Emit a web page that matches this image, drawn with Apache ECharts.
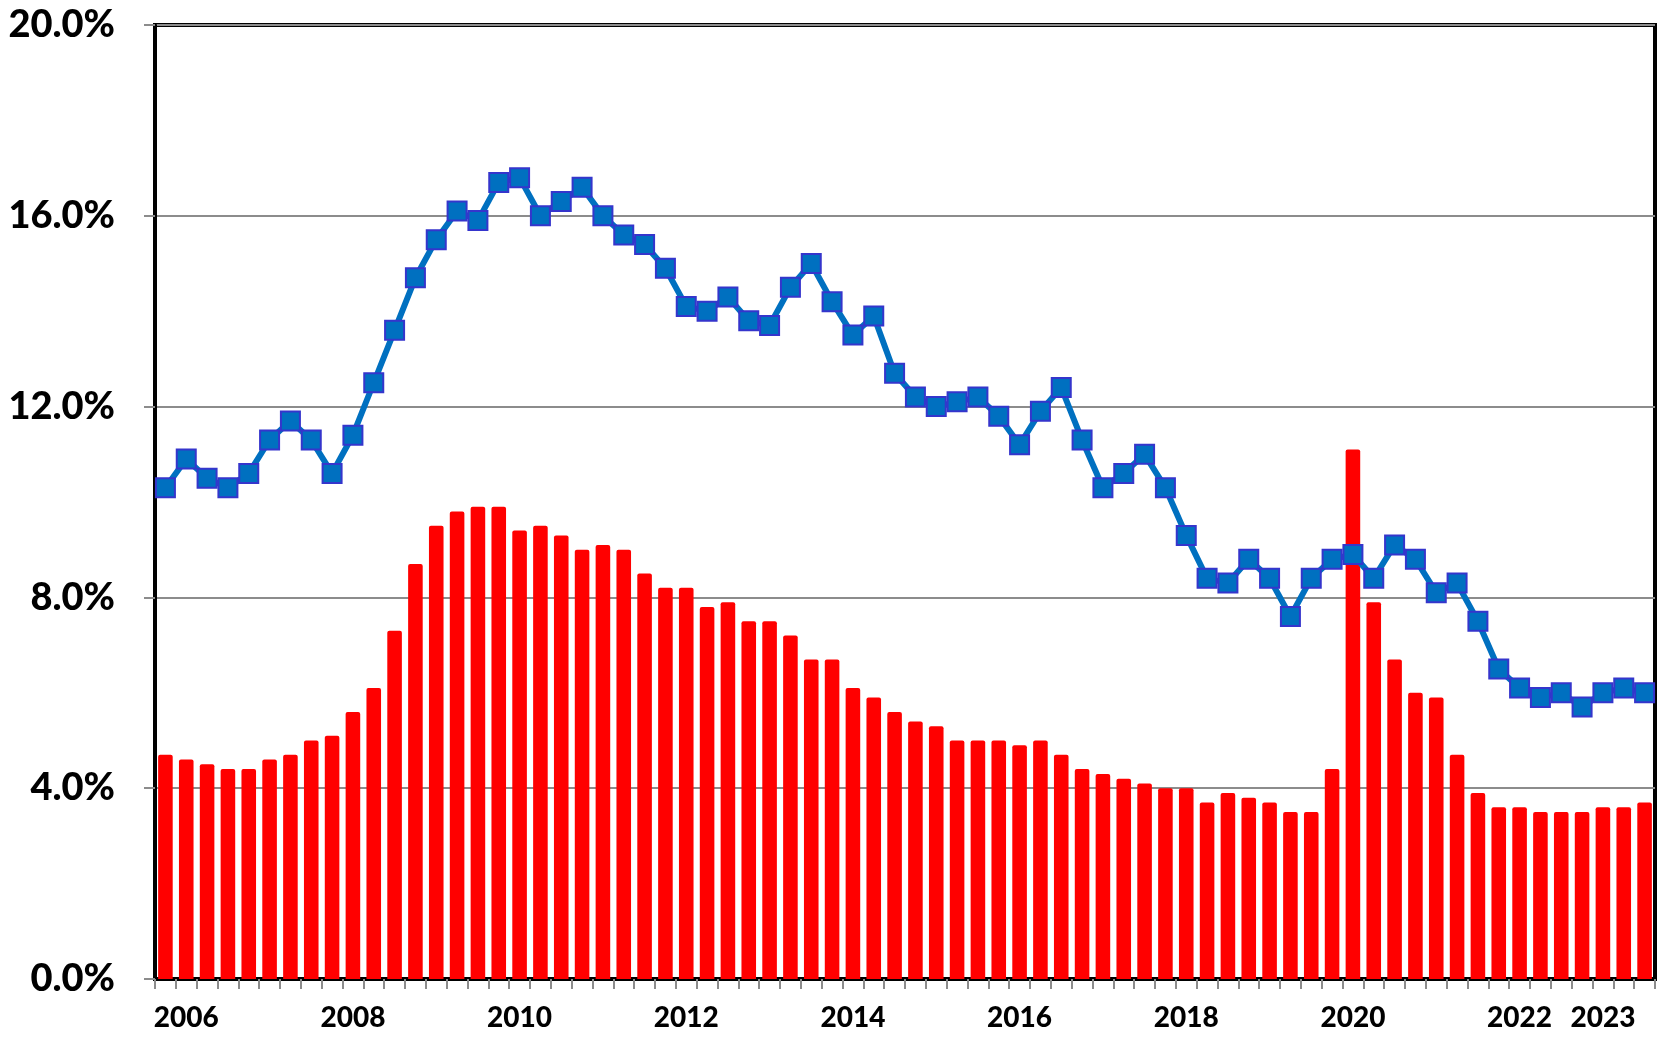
<!DOCTYPE html>
<html>
<head>
<meta charset="utf-8">
<script src="https://cdn.jsdelivr.net/npm/echarts@6/dist/echarts.min.js"></script>
<style>
html,body{margin:0;padding:0;background:#fff;}
#chart{width:1662px;height:1038px;}
</style>
</head>
<body>
<div id="chart"></div>
<script>
// Quarterly categories 2006 Q1 .. 2023 Q4
const years = [2006,2007,2008,2009,2010,2011,2012,2013,2014,2015,2016,2017,2018,2019,2020,2021,2022,2023];
const quarters = ['Q1','Q2','Q3','Q4'];
const categories = [];
years.forEach(y => quarters.forEach(q => categories.push(y + ' ' + q)));

// Red bars (%)
const barValues = [
  4.7,4.6,4.5,4.4, 4.4,4.6,4.7,5.0, 5.1,5.6,6.1,7.3, 8.7,9.5,9.8,9.9,
  9.9,9.4,9.5,9.3, 9.0,9.1,9.0,8.5, 8.2,8.2,7.8,7.9, 7.5,7.5,7.2,6.7,
  6.7,6.1,5.9,5.6, 5.4,5.3,5.0,5.0, 5.0,4.9,5.0,4.7, 4.4,4.3,4.2,4.1,
  4.0,4.0,3.7,3.9, 3.8,3.7,3.5,3.5, 4.4,11.1,7.9,6.7, 6.0,5.9,4.7,3.9,
  3.6,3.6,3.5,3.5, 3.5,3.6,3.6,3.7
];

// Blue line (%)
const lineValues = [
  10.3,10.9,10.5,10.3, 10.6,11.3,11.7,11.3, 10.6,11.4,12.5,13.6, 14.7,15.5,16.1,15.9,
  16.7,16.8,16.0,16.3, 16.6,16.0,15.6,15.4, 14.9,14.1,14.0,14.3, 13.8,13.7,14.5,15.0,
  14.2,13.5,13.9,12.7, 12.2,12.0,12.1,12.2, 11.8,11.2,11.9,12.4, 11.3,10.3,10.6,11.0,
  10.3,9.3,8.4,8.3, 8.8,8.4,7.6,8.4, 8.8,8.9,8.4,9.1, 8.8,8.1,8.3,7.5,
  6.5,6.1,5.9,6.0, 5.7,6.0,6.1,6.0
];

// X tick labels: category index -> text
const tickIndex = [1, 9, 17, 25, 33, 41, 49, 57, 65, 69];
const tickText  = ['2006','2008','2010','2012','2014','2016','2018','2020','2022','2023'];

const chart = echarts.init(document.getElementById('chart'), null, {renderer: 'canvas'});
chart.setOption({
  animation: false,
  backgroundColor: '#ffffff',
  grid: {
    left: 155, right: 7, top: 25, bottom: 59,
    show: true, borderColor: '#000000', borderWidth: 4, backgroundColor: 'transparent'
  },
  xAxis: {
    type: 'category',
    data: categories,
    boundaryGap: true,
    axisLine: { show: true, lineStyle: { color: '#000000', width: 3 } },
    axisTick: { show: true, interval: 0, length: 10, lineStyle: { color: '#8c8c8c', width: 2 } },
    axisLabel: {
      interval: (idx) => tickIndex.indexOf(idx) >= 0,
      formatter: (val, idx) => {
        const k = tickIndex.indexOf(idx);
        return k >= 0 ? tickText[k] : '';
      },
      fontFamily: 'Lato', fontWeight: 900, fontSize: 28, color: '#000000', margin: 25
    },
    splitLine: { show: false }
  },
  yAxis: {
    type: 'value',
    min: 0, max: 20, interval: 4,
    axisLine: { show: true, lineStyle: { color: '#000000', width: 3 } },
    axisTick: { show: true, length: 11, lineStyle: { color: '#8c8c8c', width: 2 } },
    axisLabel: {
      formatter: (v) => v.toFixed(1) + '%',
      fontFamily: 'Lato', fontWeight: 900, fontSize: 38, color: '#000000', margin: 40
    },
    splitLine: { show: true, lineStyle: { color: '#8c8c8c', width: 2 } }
  },
  series: [
    {
      type: 'bar',
      data: barValues,
      barCategoryGap: '30%',
      itemStyle: { color: '#ff0000', borderRadius: [2, 2, 0, 0] },
      z: 2
    },
    {
      type: 'line',
      data: lineValues,
      symbol: 'rect',
      symbolSize: 19,
      showAllSymbol: true,
      lineStyle: { color: '#0070c0', width: 6 },
      itemStyle: { color: '#0070c0', borderColor: '#3535cc', borderWidth: 2 },
      z: 3
    }
  ]
});
</script>
</body>
</html>
